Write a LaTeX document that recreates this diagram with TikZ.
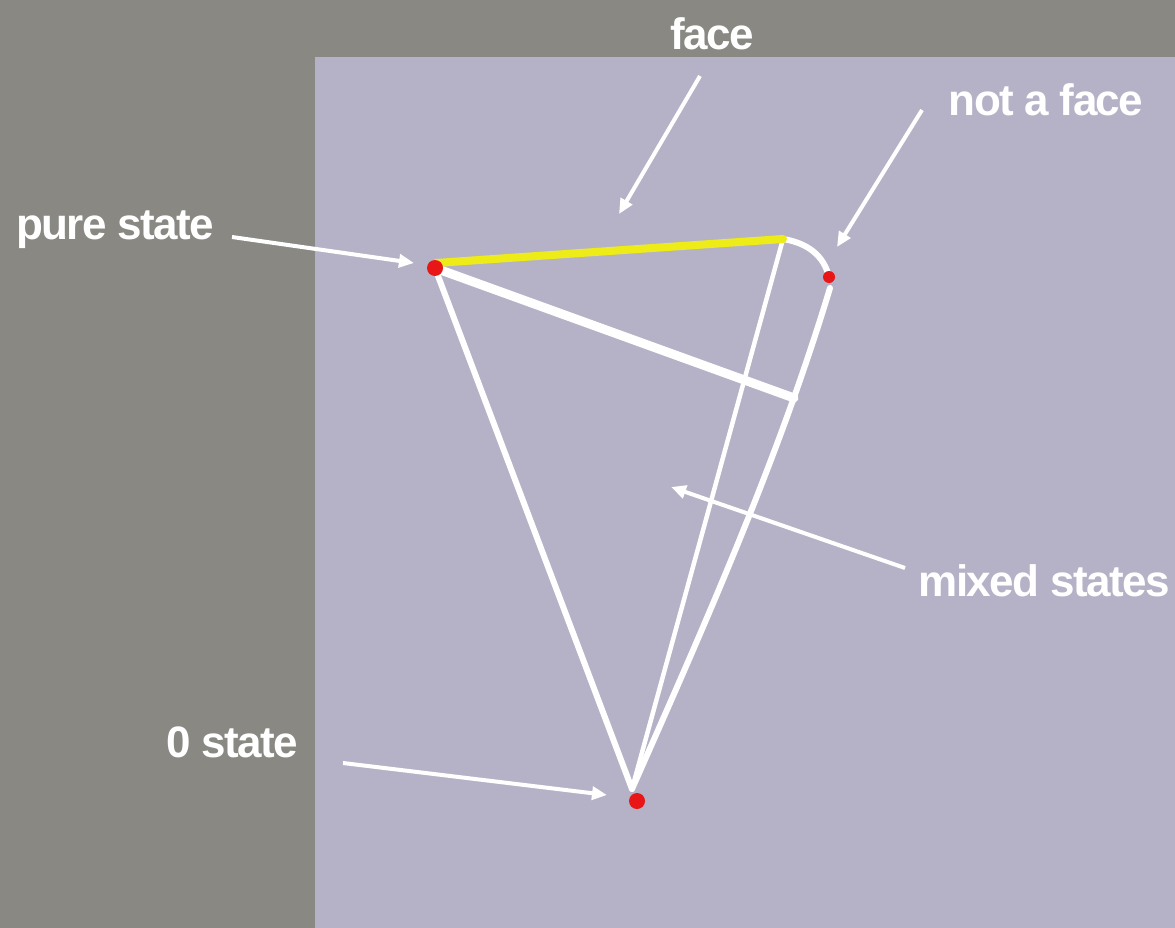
\documentclass[tikz,border=0pt]{standalone}
\usepackage{fontspec}
\newfontfamily\labfont{Liberation Sans}[LetterSpace=-3.5]
\usetikzlibrary{arrows.meta}
\definecolor{bggray}{RGB}{137,136,131}
\definecolor{panel}{RGB}{181,178,199}
\definecolor{hiyel}{RGB}{238,236,24}
\definecolor{dotred}{RGB}{232,22,22}
\tikzset{
  lbl/.style={text=white, font=\labfont\bfseries\fontsize{44}{48}\selectfont, inner sep=0pt, anchor=center},
  wline/.style={draw=white, line width=6pt, line cap=round},
  thinw/.style={draw=white, line width=4.5pt, line cap=round},
  ptr/.style={draw=white, line width=4pt, -{Triangle[length=15pt,width=13pt]}},
  dotn/.style={circle, fill=dotred, inner sep=0pt, minimum size=#1},
}
\begin{document}
\begin{tikzpicture}[x=1pt,y=-1pt]
\useasboundingbox (0,0) rectangle (1175,928);
\fill[bggray] (0,0) rectangle (1175,928);
\fill[panel] (315,57) rectangle (1175,928);
% key points
\coordinate (P) at (435,268);
\coordinate (Py) at (436,263);
\coordinate (Q) at (783,239);
\coordinate (R) at (829,277);
\coordinate (Rb) at (830,288);
\coordinate (Zt) at (632,789);
\coordinate (Z) at (637,801);
\coordinate (M) at (794,398);
% white structure
\draw[wline] (P) -- (Zt);
\draw[thinw] (Q) -- (Zt);
\draw[wline] (Rb) .. controls (779,457) and (707,620) .. (Zt);
\draw[wline] (Q) .. controls (808,243) and (824,256) .. (R);
\draw[draw=white, line width=9pt, line cap=round] (P) -- (M);
% face
\draw[draw=hiyel, line width=8pt, line cap=round] (Py) -- (Q);
% dots
\node[dotn=16pt] (Pd) at (P) {};
\node[dotn=12pt] (Rd) at (R) {};
\node[dotn=16pt] (Zd) at (Z) {};
% labels
\node[lbl] (face) at (712,34) {face};
\node[lbl] (notface) at (1046,100) {not a face};
\node[lbl] (pure) at (115,230) {pure state};
\node[lbl] (zero) at (232,742) {0 state};
\node[lbl] (mixed) at (1044,581) {mixed states};
% pointer arrows
\coordinate (fa1) at (700,76);
\coordinate (fa2) at (619,214);
\coordinate (nf1) at (922,110);
\coordinate (nf2) at (837,247);
\coordinate (ps1) at (232,237);
\coordinate (ps2) at (414,263);
\coordinate (zs1) at (343,763);
\coordinate (zs2) at (607,795);
\coordinate (ms1) at (905,568);
\coordinate (ms2) at (671,487);
\draw[ptr] (fa1) -- (fa2);
\draw[ptr] (nf1) -- (nf2);
\draw[ptr] (ps1) -- (ps2);
\draw[ptr] (zs1) -- (zs2);
\draw[ptr] (ms1) -- (ms2);
\end{tikzpicture}
\end{document}
